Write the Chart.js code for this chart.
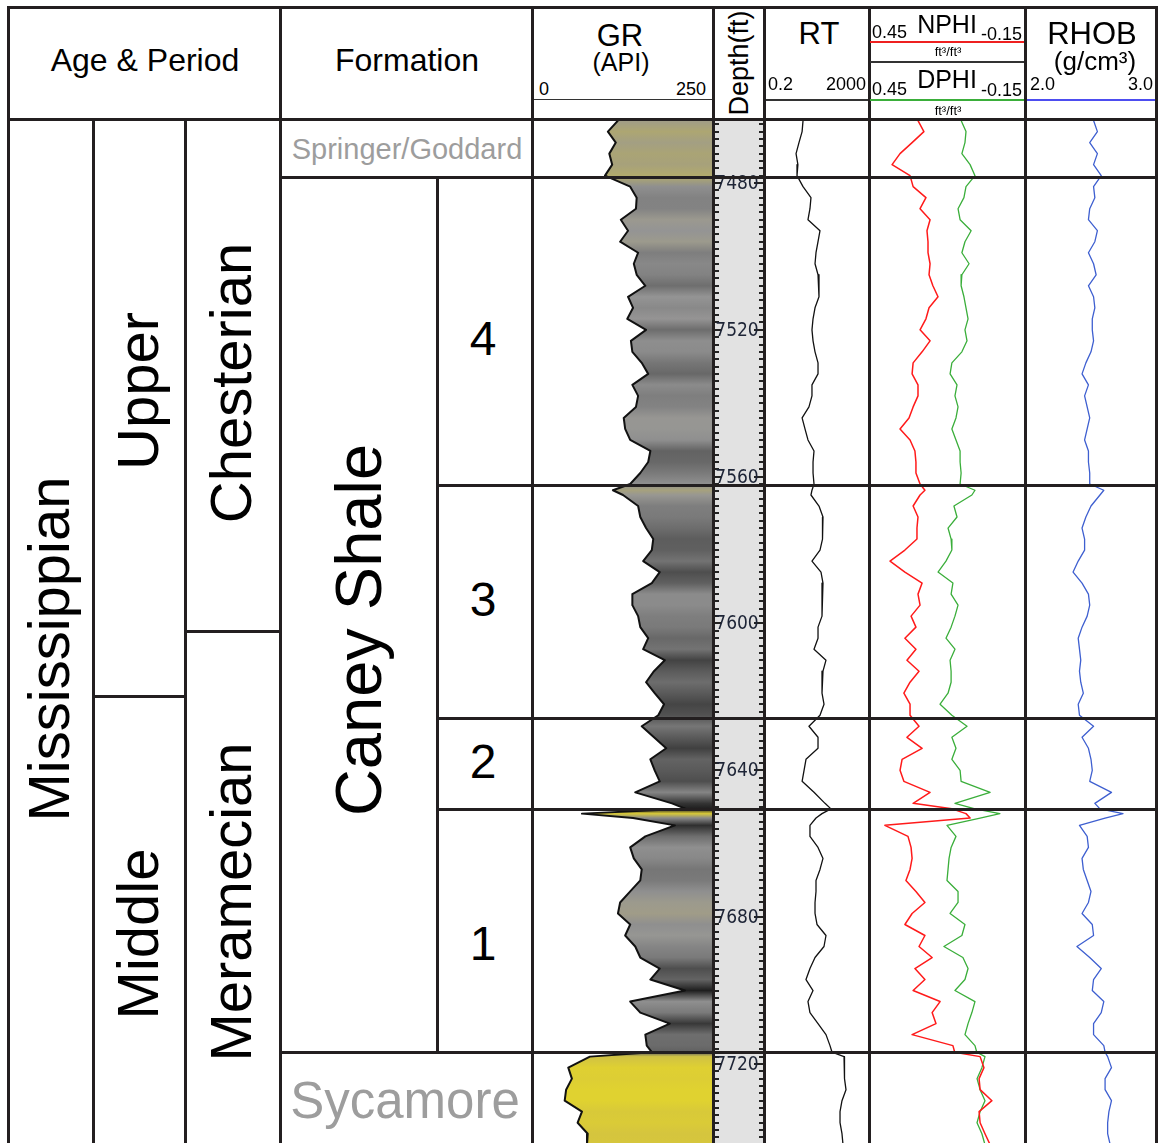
<!DOCTYPE html>
<html>
<head>
<meta charset="utf-8">
<title>Caney Shale well log</title>
<script src="https://cdn.jsdelivr.net/npm/chart.js@4.4.1/dist/chart.umd.min.js"></script>
<style>
  body { margin: 0; background: #fff; font-family: "Liberation Sans", Arial, sans-serif; }
  #page { position: relative; width: 1159px; height: 1143px; overflow: hidden; background: #fff; }
  canvas { position: absolute; z-index: 1; }
  .ln { position: absolute; background: #231f20; z-index: 3; }
  .t { position: absolute; white-space: nowrap; line-height: 1; transform: translate(-50%, -50%); z-index: 4; color: #000; }
  .tl { transform: translate(0, -50%); }
  .tr { transform: translate(-100%, -50%); }
  .rot { transform: translate(-50%, -50%) rotate(-90deg); }
  .grey { color: #9d9d9d; }
</style>
</head>
<body>
<div id="page">
  <canvas id="grTrack" width="180" height="1023" style="left:533px;top:120px"></canvas>
  <canvas id="depthTrack" width="48" height="1023" style="left:715px;top:120px"></canvas>
  <canvas id="rtTrack" width="102" height="1023" style="left:765px;top:120px"></canvas>
  <canvas id="porTrack" width="154" height="1023" style="left:870px;top:120px"></canvas>
  <canvas id="rhobTrack" width="128" height="1023" style="left:1027px;top:120px"></canvas>

  <!-- header -->
  <div class="t" style="left:145px;top:60px;font-size:32px">Age &amp; Period</div>
  <div class="t" style="left:407px;top:60px;font-size:32px">Formation</div>

  <div class="t" style="left:620px;top:35px;font-size:31px">GR</div>
  <div class="t" style="left:621px;top:62px;font-size:25px">(API)</div>
  <div class="t tl" style="left:539px;top:89px;font-size:18px">0</div>
  <div class="t tr" style="left:706px;top:89px;font-size:18px">250</div>

  <div class="t rot" style="left:739px;top:63px;font-size:27px">Depth(ft)</div>

  <div class="t" style="left:819px;top:33px;font-size:31px">RT</div>
  <div class="t tl" style="left:768px;top:84px;font-size:18px">0.2</div>
  <div class="t tr" style="left:866px;top:84px;font-size:18px">2000</div>

  <div class="t tl" style="left:872px;top:32px;font-size:18px">0.45</div>
  <div class="t" style="left:947px;top:24px;font-size:25px">NPHI</div>
  <div class="t tr" style="left:1022px;top:34px;font-size:18px">-0.15</div>
  <div class="t" style="left:948px;top:51px;font-size:13px">ft³/ft³</div>
  <div class="t tl" style="left:872px;top:89px;font-size:18px">0.45</div>
  <div class="t" style="left:947px;top:79px;font-size:25px">DPHI</div>
  <div class="t tr" style="left:1022px;top:90px;font-size:18px">-0.15</div>
  <div class="t" style="left:948px;top:110px;font-size:13px">ft³/ft³</div>

  <div class="t" style="left:1092px;top:33px;font-size:31px">RHOB</div>
  <div class="t" style="left:1095px;top:61px;font-size:26px">(g/cm³)</div>
  <div class="t tl" style="left:1030px;top:84px;font-size:18px">2.0</div>
  <div class="t tr" style="left:1153px;top:84px;font-size:18px">3.0</div>

  <!-- stratigraphy -->
  <div class="t rot" style="left:49px;top:649px;font-size:58px">Mississippian</div>
  <div class="t rot" style="left:138px;top:391px;font-size:58px">Upper</div>
  <div class="t rot" style="left:138px;top:934px;font-size:58px">Middle</div>
  <div class="t rot" style="left:231px;top:383px;font-size:58px">Chesterian</div>
  <div class="t rot" style="left:231px;top:902px;font-size:58px">Meramecian</div>
  <div class="t rot" style="left:358px;top:630px;font-size:65px">Caney Shale</div>
  <div class="t grey" style="left:407px;top:149px;font-size:29px">Springer/Goddard</div>
  <div class="t grey" style="left:405px;top:1100px;font-size:51px">Sycamore</div>
  <div class="t" style="left:483px;top:339px;font-size:48px">4</div>
  <div class="t" style="left:483px;top:600px;font-size:48px">3</div>
  <div class="t" style="left:483px;top:762px;font-size:48px">2</div>
  <div class="t" style="left:483px;top:944px;font-size:48px">1</div>
</div>

<script>
// depth samples (ft)
const depth = [
  7463, 7466, 7469, 7472, 7475, 7478, 7481, 7484, 7487, 7490, 7493, 7496, 7499, 7502, 7505, 7508, 7511,
  7514, 7517, 7520, 7523, 7526, 7529, 7532, 7535, 7538, 7541, 7544, 7547, 7550, 7553, 7556, 7559, 7562, 7563.7,
  7565, 7568, 7571, 7574, 7577, 7580, 7583, 7586, 7589, 7592, 7595, 7598, 7601, 7604, 7607, 7610, 7613,
  7616, 7619, 7622, 7625, 7628, 7631, 7634, 7637, 7640, 7643, 7646, 7649,
  7650.5, 7651.8, 7653, 7655, 7658, 7661, 7664, 7667, 7670, 7673, 7676, 7679, 7682, 7685, 7688, 7691, 7694, 7697, 7700,
  7703, 7706, 7709, 7712, 7715, 7716.8, 7718, 7721, 7724, 7727, 7730, 7733, 7736, 7739, 7742
];

const gr = [
  118, 104, 115, 106, 110, 100, 135, 144, 143, 122, 132, 121, 146, 140, 144, 156, 132,
  139, 131, 157, 136, 138, 151, 160, 138, 146, 143, 126, 128, 135, 163, 160, 149, 135, 111,
  125, 146, 149, 157, 167, 165, 153, 176, 165, 138, 138, 146, 149, 160, 153, 183, 168,
  157, 169, 182, 174, 151, 168, 185, 163, 169, 176, 142, 193,
  212, 68, 139, 197, 156, 135, 140, 151, 149, 135, 121, 118, 135, 128, 142, 149, 176, 163, 211,
  135, 149, 190, 156, 158, 165, 79, 49, 54, 46, 44, 68, 62, 76, 75
];

const rt = [
  6.2, 5.7, 4.3, 3.3, 3.9, 3.6, 6.2, 12.7, 11.6, 9.7, 28.7, 24, 20, 18.3, 24, 26.2, 26.2,
  18.3, 15.3, 13.9, 15.3, 18.3, 24, 24, 13.9, 13.9, 10.6, 5.7, 7.4, 9.7, 16.7, 15.3, 15.3, 16.7, 13.9,
  12.7, 26.2, 37.6, 37.6, 34.4, 28.7, 13.9, 31.4, 37.6, 34.4, 34.4, 34.4, 24, 24, 16.7, 49.3, 37.6,
  34.4, 34.4, 41.2, 28.7, 10.6, 24, 24, 8.1, 6.8, 5.7, 16.7, 45.1,
  77, 34.4, 20, 11.6, 11.6, 24, 37.6, 28.7, 20, 20, 18.3, 18.3, 21.9, 49.3, 41.2, 18.3, 11.6, 8.1, 15.3,
  9.7, 11.6, 24, 49.3, 70.8, 85, 251, 274, 251, 300, 209, 175, 175, 209, 229
];

const nphi = [
  0.263, 0.240, 0.286, 0.333, 0.364, 0.294, 0.282, 0.232, 0.255, 0.216, 0.228, 0.224, 0.224, 0.216, 0.220, 0.205, 0.185,
  0.220, 0.232, 0.255, 0.216, 0.247, 0.282, 0.286, 0.263, 0.263, 0.282, 0.298, 0.333, 0.294, 0.275, 0.271, 0.271, 0.255, 0.236,
  0.255, 0.282, 0.263, 0.267, 0.267, 0.314, 0.372, 0.314, 0.247, 0.263, 0.255, 0.290, 0.271, 0.314, 0.271, 0.306, 0.259,
  0.294, 0.318, 0.294, 0.294, 0.259, 0.306, 0.247, 0.325, 0.333, 0.318, 0.216, 0.282,
  0.131, 0.076, 0.060, 0.392, 0.302, 0.290, 0.286, 0.294, 0.310, 0.271, 0.236, 0.286, 0.314, 0.236, 0.259, 0.208, 0.275, 0.236, 0.282,
  0.177, 0.208, 0.193, 0.286, 0.127, 0.120, 0.021, 0.006, 0.025, 0.021, -0.025, 0.025, 0.021, 0.002, -0.018
];

const dphi = [
  0.095, 0.076, 0.080, 0.092, 0.060, 0.041, 0.076, 0.084, 0.107, 0.099, 0.056, 0.080, 0.092, 0.064, 0.092, 0.095, 0.084,
  0.076, 0.068, 0.080, 0.072, 0.092, 0.131, 0.138, 0.111, 0.119, 0.107, 0.115, 0.131, 0.115, 0.099, 0.099, 0.095, 0.099, 0.041,
  0.053, 0.123, 0.111, 0.146, 0.134, 0.131, 0.154, 0.185, 0.127, 0.134, 0.107, 0.119, 0.134, 0.154, 0.119, 0.138, 0.134,
  0.134, 0.146, 0.177, 0.131, 0.072, 0.131, 0.115, 0.131, 0.099, 0.095, -0.018, 0.119,
  0.041, -0.056, 0.021, 0.150, 0.115, 0.134, 0.142, 0.146, 0.150, 0.107, 0.107, 0.138, 0.080, 0.092, 0.162, 0.088, 0.068, 0.080, 0.119,
  0.041, 0.053, 0.068, 0.080, 0.041, 0.034, 0.002, 0.014, 0.033, 0.021, 0.002, 0.021, 0.033, 0.014, 0.002
];

const rhob = [
  2.52, 2.55, 2.49, 2.55, 2.52, 2.58, 2.52, 2.53, 2.49, 2.48, 2.55, 2.53, 2.48, 2.52, 2.54, 2.48, 2.52,
  2.53, 2.51, 2.51, 2.52, 2.50, 2.46, 2.43, 2.48, 2.45, 2.47, 2.49, 2.47, 2.45, 2.48, 2.48, 2.49, 2.49, 2.60,
  2.57, 2.50, 2.46, 2.43, 2.45, 2.45, 2.40, 2.36, 2.43, 2.48, 2.49, 2.47, 2.43, 2.40, 2.41, 2.42, 2.41,
  2.42, 2.44, 2.40, 2.41, 2.52, 2.43, 2.48, 2.50, 2.51, 2.49, 2.66, 2.53,
  2.57, 2.75, 2.61, 2.41, 2.47, 2.48, 2.43, 2.44, 2.47, 2.50, 2.48, 2.43, 2.51, 2.52, 2.39, 2.49, 2.58, 2.52, 2.51,
  2.60, 2.58, 2.52, 2.52, 2.60, 2.61, 2.63, 2.66, 2.61, 2.61, 2.66, 2.64, 2.63, 2.63, 2.65
];

const depthLabels = [7480, 7520, 7560, 7600, 7640, 7680, 7720];

// tops (ft): Caney 4, Caney 3, Caney 2, Caney 1, Sycamore
const zoneTops = [7478.4, 7562.5, 7626.0, 7650.7, 7717.0];
const meramecianTop = 7602.3;
const middleTop = 7619.8;

const DEPTH_MIN = 7462.84;
const DEPTH_MAX = 7741.53;
const BODY_TOP = 120;
const BODY_H = 1023;

function depthY(d) {
  return BODY_TOP + (d - DEPTH_MIN) * BODY_H / (DEPTH_MAX - DEPTH_MIN);
}

function pts(vals) {
  return vals.map((v, i) => ({ x: v, y: depth[i] }));
}

// GR shading: yellow for clean carbonate, khaki, then greys darkening with GR
const grStops = [
  [45, [224, 210, 48]], [75, [214, 198, 60]], [95, [184, 176, 100]], [108, [168, 162, 120]],
  [116, [162, 158, 132]], [124, [152, 151, 146]], [132, [148, 148, 148]], [145, [128, 128, 128]],
  [160, [104, 104, 104]], [175, [80, 80, 80]], [190, [56, 56, 56]], [210, [30, 30, 30]]
];
function grColor(v) {
  if (v <= grStops[0][0]) return 'rgb(' + grStops[0][1].join(',') + ')';
  for (let i = 1; i < grStops.length; i++) {
    const [v1, c1] = grStops[i];
    const [v0, c0] = grStops[i - 1];
    if (v <= v1) {
      const f = (v - v0) / (v1 - v0);
      const c = c0.map((c, k) => Math.round(c + (c1[k] - c) * f));
      return 'rgb(' + c.join(',') + ')';
    }
  }
  return 'rgb(' + grStops[grStops.length - 1][1].join(',') + ')';
}

function depthAxis() {
  return { type: 'linear', min: DEPTH_MIN, max: DEPTH_MAX, reverse: true, display: false };
}

function trackOptions(x) {
  return {
    indexAxis: 'y',
    responsive: false,
    animation: false,
    devicePixelRatio: 1,
    events: [],
    layout: { padding: 0 },
    elements: { point: { radius: 0 }, line: { tension: 0, borderJoinStyle: 'round' } },
    plugins: { legend: { display: false }, tooltip: { enabled: false } },
    scales: { x: Object.assign({ display: false }, x), y: depthAxis() }
  };
}

Chart.defaults.font.family = '"Liberation Sans", Arial, sans-serif';

// GR with shaded fill to 250 API
new Chart(document.getElementById('grTrack'), {
  type: 'line',
  data: {
    datasets: [{
      data: pts(gr),
      borderColor: '#111',
      borderWidth: 2,
      fill: { value: 250 },
      backgroundColor: (ctx) => {
        const chart = ctx.chart;
        const area = chart.chartArea;
        if (!area) return grColor(140);
        const y = chart.scales.y;
        const g = chart.ctx.createLinearGradient(0, area.top, 0, area.bottom);
        depth.forEach((d, i) => {
          let off = (y.getPixelForValue(d) - area.top) / (area.bottom - area.top);
          off = Math.min(1, Math.max(0, off));
          g.addColorStop(off, grColor(gr[i]));
        });
        return g;
      }
    }]
  },
  options: trackOptions({ type: 'linear', min: 0, max: 250 })
});

// depth track: grey strip, 2 ft ticks both sides, labels every 40 ft
const depthScalePlugin = {
  id: 'depthScale',
  beforeDraw(chart) {
    const { ctx, chartArea: a, scales: { y } } = chart;
    ctx.save();
    ctx.fillStyle = '#e2e2e2';
    ctx.fillRect(a.left, a.top, a.right - a.left, a.bottom - a.top);
    ctx.fillStyle = '#222';
    for (let d = Math.ceil(y.min / 2) * 2; d <= y.max; d += 2) {
      const py = Math.round(y.getPixelForValue(d));
      ctx.fillRect(a.left, py - 1, 4, 2);
      ctx.fillRect(a.right - 4, py - 1, 4, 2);
    }
    ctx.font = '19px "Liberation Sans Narrow", "DejaVu Sans Condensed", sans-serif';
    ctx.textAlign = 'center';
    ctx.textBaseline = 'middle';
    depthLabels.forEach((d) => {
      const py = Math.round(y.getPixelForValue(d));
      ctx.fillStyle = '#e2e2e2';
      ctx.fillRect(a.left + 5, py - 8, 36, 16);
      ctx.fillStyle = '#222';
      ctx.fillRect(a.left, py - 1, 6, 2);
      ctx.fillRect(a.right - 9, py - 1, 9, 2);
      ctx.fillStyle = '#1d2436';
      ctx.fillText(String(d), a.left + 22, py + 1);
    });
    ctx.restore();
  }
};

new Chart(document.getElementById('depthTrack'), {
  type: 'line',
  data: { datasets: [] },
  options: trackOptions({ type: 'linear', min: 0, max: 1 }),
  plugins: [depthScalePlugin]
});

// resistivity, log scale
new Chart(document.getElementById('rtTrack'), {
  type: 'line',
  data: { datasets: [{ data: pts(rt), borderColor: '#111', borderWidth: 1.3, fill: false }] },
  options: trackOptions({ type: 'logarithmic', min: 0.2, max: 2000 })
});

// neutron / density porosity, reversed scale
new Chart(document.getElementById('porTrack'), {
  type: 'line',
  data: {
    datasets: [
      { data: pts(nphi), borderColor: '#ff1a1a', borderWidth: 1.5, fill: false },
      { data: pts(dphi), borderColor: '#3aae3a', borderWidth: 1.3, fill: false }
    ]
  },
  options: trackOptions({ type: 'linear', min: -0.15, max: 0.45, reverse: true })
});

// bulk density
new Chart(document.getElementById('rhobTrack'), {
  type: 'line',
  data: { datasets: [{ data: pts(rhob), borderColor: '#3e5fd0', borderWidth: 1.3, fill: false }] },
  options: trackOptions({ type: 'linear', min: 2.0, max: 3.0 })
});

// frame lines
const page = document.getElementById('page');
function rule(left, top, w, h, color) {
  const el = document.createElement('div');
  el.className = 'ln';
  el.style.left = left + 'px';
  el.style.top = top + 'px';
  el.style.width = w + 'px';
  el.style.height = h + 'px';
  if (color) el.style.background = color;
  page.appendChild(el);
}
function hLine(x1, x2, y, t, color) { t = t || 3; rule(x1, y - t / 2, x2 - x1, t, color); }
function vLine(x, y1, y2, t, color) { t = t || 3; rule(x - t / 2, y1, t, y2 - y1, color); }

hLine(6.5, 1157.5, 7.5);
hLine(6.5, 1157.5, 119);
[8, 280, 532.5, 713.5, 764.5, 869, 1025.5, 1156].forEach((x) => vLine(x, 6, 1143));
vLine(93, 119, 1143);
vLine(185, 119, 1143);
vLine(437, depthY(zoneTops[0]), depthY(zoneTops[4]));
hLine(278.5, 1157.5, depthY(zoneTops[0]));
hLine(435.5, 1157.5, depthY(zoneTops[1]));
hLine(435.5, 1157.5, depthY(zoneTops[2]));
hLine(435.5, 1157.5, depthY(zoneTops[3]));
hLine(278.5, 1157.5, depthY(zoneTops[4]));
hLine(183.5, 281.5, depthY(meramecianTop));
hLine(91.5, 186.5, depthY(middleTop));

// header scale lines
hLine(534, 712, 99.5, 1.2, '#333');
hLine(766, 868, 100, 1.2, '#333');
hLine(870, 1024, 41.5, 2, '#ee2020');
hLine(870, 1024, 62, 1.5, '#333');
hLine(870, 1024, 99.5, 2, '#3aae3a');
hLine(1027, 1155, 99.5, 2, '#4d4df0');
</script>
</body>
</html>
